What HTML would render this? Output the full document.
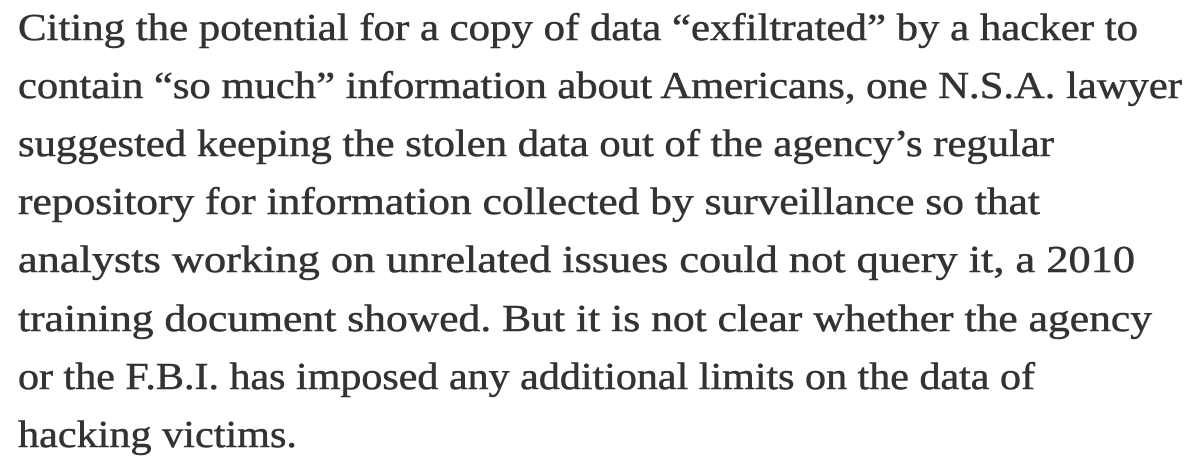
<!DOCTYPE html>
<html><head><meta charset="utf-8"><style>
html,body{margin:0;padding:0;background:#fff;width:1200px;height:471px;overflow:hidden}
svg text{font-family:"Liberation Serif",serif;font-size:38px;fill:#333;stroke:#333;stroke-width:0.5px}
</style></head><body>
<svg width="1200" height="471">
<text x="18" y="40" textLength="1120" lengthAdjust="spacingAndGlyphs">Citing the potential for a copy of data “exfiltrated” by a hacker to</text>
<text x="18" y="98" textLength="1164" lengthAdjust="spacingAndGlyphs">contain “so much” information about Americans, one N.S.A. lawyer</text>
<text x="18" y="156" textLength="1036" lengthAdjust="spacingAndGlyphs">suggested keeping the stolen data out of the agency’s regular</text>
<text x="18" y="214" textLength="1022" lengthAdjust="spacingAndGlyphs">repository for information collected by surveillance so that</text>
<text x="18" y="272" textLength="1117" lengthAdjust="spacingAndGlyphs">analysts working on unrelated issues could not query it, a 2010</text>
<text x="18" y="331" textLength="1134" lengthAdjust="spacingAndGlyphs">training document showed. But it is not clear whether the agency</text>
<text x="18" y="389" textLength="1017" lengthAdjust="spacingAndGlyphs">or the F.B.I. has imposed any additional limits on the data of</text>
<text x="18" y="447" textLength="279" lengthAdjust="spacingAndGlyphs">hacking victims.</text>
</svg>
</body></html>
